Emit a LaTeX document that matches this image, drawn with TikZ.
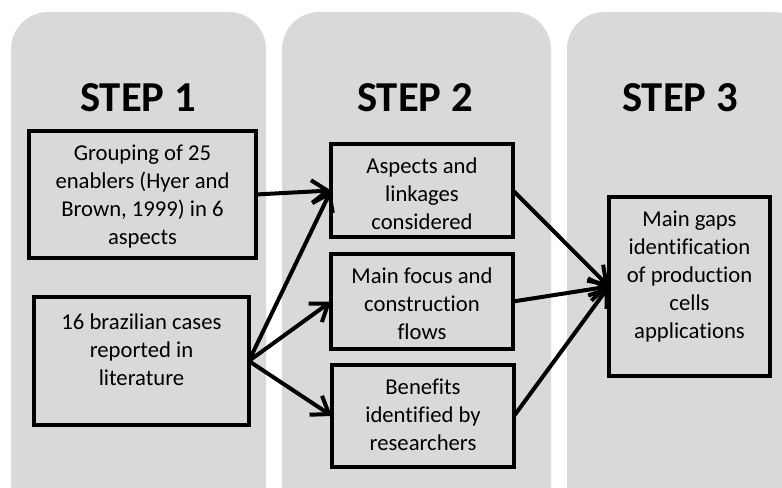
\documentclass[tikz,border=0pt]{standalone}
\usepackage{fontspec}
\setmainfont{Carlito}[Ligatures=NoCommon]
\usetikzlibrary{arrows.meta}
\definecolor{panelgray}{RGB}{217,217,217}
\begin{document}
\begin{tikzpicture}[x=0.75pt, y=-0.75pt, line join=miter,
        panel/.style={fill=panelgray, rounded corners=28pt},
        steptitle/.style={font=\fontsize{32}{38}\selectfont\bfseries, anchor=base, inner sep=0pt},
        stepbox/.style={draw, line width=3pt, inner sep=0pt, outer sep=0pt},
        boxtext/.style={font=\fontsize{17}{21}\selectfont, align=center, anchor=north, inner sep=0pt},
        link/.style={line width=3pt, -{Straight Barb[length=12pt, width=17pt]}}]
    \useasboundingbox (0,0) rectangle (782,488);
    \clip (0,0) rectangle (782,488);
    % columns
    \fill[panel] (11,12) rectangle (266,540);
    \fill[panel] (282,12) rectangle (551,540);
    \fill[panel] (567,12) rectangle (810,540);
    \node[steptitle] (title1) at (138,112) {STEP 1};
    \node[steptitle] (title2) at (415,112) {STEP 2};
    \node[steptitle] (title3) at (680,112) {STEP 3};
    % boxes
    \node[stepbox, minimum width=170pt, minimum height=95pt] (grouping) at (142.5,194.5) {};
    \node[stepbox, minimum width=161pt, minimum height=96pt] (cases) at (141.5,361) {};
    \node[stepbox, minimum width=136.5pt, minimum height=70pt] (aspects) at (422,190.5) {};
    \node[stepbox, minimum width=136.5pt, minimum height=71pt] (focus) at (422,301.5) {};
    \node[stepbox, minimum width=136.5pt, minimum height=76.5pt] (benefits) at (423,416) {};
    \node[stepbox, minimum width=121pt, minimum height=134pt] (gaps) at (689.5,286.5) {};
    % texts
    \node[boxtext] (grouping-txt) at ([yshift=-10pt]grouping.north) {Grouping of 25\\enablers (Hyer and\\Brown, 1999) in 6\\aspects};
    \node[boxtext] (cases-txt) at ([yshift=-12pt]cases.north) {16 brazilian cases\\reported in\\literature};
    \node[boxtext] (aspects-txt) at ([yshift=-10pt]aspects.north) {Aspects and\\linkages\\considered};
    \node[boxtext] (focus-txt) at ([yshift=-10pt]focus.north) {Main focus and\\construction\\flows};
    \node[boxtext] (benefits-txt) at ([yshift=-10pt]benefits.north) {Benefits\\identified by\\researchers};
    \node[boxtext] (gaps-txt) at ([yshift=-10pt]gaps.north) {Main gaps\\identification\\of production\\cells\\applications};
    % arrows
    \draw[link] (grouping.east) -- (aspects.west);
    \draw[link] (cases.east) -- (aspects.west);
    \draw[link] (cases.east) -- (focus.west);
    \draw[link] (cases.east) -- (benefits.west);
    \draw[link] (aspects.east) -- (gaps.west);
    \draw[link] (focus.east) -- (gaps.west);
    \draw[link] (benefits.east) -- (gaps.west);
\end{tikzpicture}
\end{document}
